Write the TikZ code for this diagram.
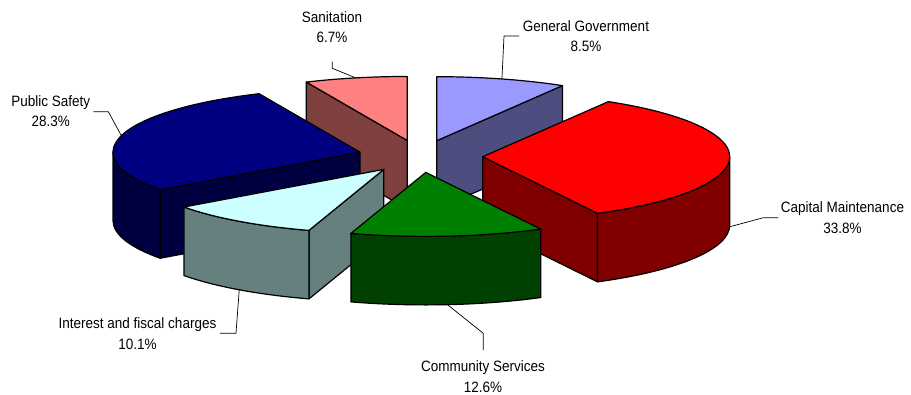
\documentclass[tikz,border=0pt]{standalone}
\usepackage{fontspec}
\setmainfont{Liberation Sans}[FakeStretch=0.9]
\definecolor{ggtop}{HTML}{9999FF}\definecolor{ggside}{HTML}{4D4D80}
\definecolor{santop}{HTML}{FF8080}\definecolor{sanside}{HTML}{804040}
\definecolor{pstop}{HTML}{000080}\definecolor{psside}{HTML}{000040}
\definecolor{cmtop}{HTML}{FF0000}\definecolor{cmside}{HTML}{800000}
\definecolor{iftop}{HTML}{CCFFFF}\definecolor{ifside}{HTML}{668080}
\definecolor{cstop}{HTML}{008000}\definecolor{csside}{HTML}{004000}
\newcommand\slicectr[2]{%
  \pgfmathsetmacro\sA{#1}%
  \pgfmathsetmacro\sB{#2}%
  \pgfmathsetmacro\sM{(#1+#2)/2}%
  \pgfmathsetmacro\cX{\ox+\ee*cos(\sM)}%
  \pgfmathsetmacro\cY{\oy+\eb*sin(\sM)}%
}
\newcommand\slicetop[1]{%
  \path[edge,fill=#1] (\cX,\cY) -- ++({\ra*cos(\sA)},{\rb*sin(\sA)})
    arc[start angle=\sA,end angle=\sB,x radius=\ra,y radius=\rb] -- cycle;}
\newcommand\sliceface[2]{%
  \path[edge,fill=#2] (\cX,\cY) -- ++({\ra*cos(#1)},{\rb*sin(#1)}) -- ++(0,-\hh)
    -- ++({-\ra*cos(#1)},{-\rb*sin(#1)}) -- cycle;}
\newcommand\slicerim[3]{%
  \path[edge,fill=#3] ({\cX+\ra*cos(#1)},{\cY+\rb*sin(#1)})
    arc[start angle=#1,end angle=#2,x radius=\ra,y radius=\rb] -- ++(0,-\hh)
    arc[start angle=#2,end angle=#1,x radius=\ra,y radius=\rb] -- cycle;}
\begin{document}
\begin{tikzpicture}[x=1pt,y=1pt,
  edge/.style={draw=black,line width=1.2pt,line join=round},
  lead/.style={draw=black,line width=0.7pt},
  lbl/.style={align=center,inner sep=0pt,font=\fontsize{15}{20.5}\selectfont,anchor=base}]
\useasboundingbox (0,0) rectangle (911,394);
\def\ox{420.3}\def\oy{237.7}\def\ra{247}\def\rb{64}\def\hh{68.5}\def\ee{62.4}\def\eb{16.17}
% General Government
\slicectr{59.4}{90}
\sliceface{59.4}{ggside}
\slicetop{ggtop}
\coordinate (ggE) at ({\cX+\ra*cos(\sM)},{\cY+\rb*sin(\sM)});
% Sanitation
\slicectr{90}{114.12}
\sliceface{114.12}{sanside}
\slicetop{santop}
\coordinate (sanE) at ({\cX+\ra*cos(\sM)},{\cY+\rb*sin(\sM)});
% Public Safety
\slicectr{114.12}{216}
\slicerim{180}{216}{psside}
\sliceface{216}{psside}
\slicetop{pstop}
\coordinate (psE) at ({\cX+\ra*cos(\sM)},{\cY+\rb*sin(\sM)});
% Capital Maintenance
\slicectr{-62.28}{59.4}
\sliceface{-62.28}{cmside}
\slicerim{-62.28}{0}{cmside}
\slicetop{cmtop}
\coordinate (cmE) at ({\cX+\ra*cos(\sM)},{\cY+\rb*sin(\sM)-\hh});
% Interest and fiscal charges
\slicectr{-144}{-107.64}
\sliceface{-107.64}{ifside}
\slicerim{-144}{-107.64}{ifside}
\slicetop{iftop}
\coordinate (ifE) at ({\cX+\ra*cos(\sM)},{\cY+\rb*sin(\sM)-\hh});
% Community Services
\slicectr{-107.64}{-62.28}
\slicerim{-107.64}{-62.28}{csside}
\slicetop{cstop}
\coordinate (csE) at ({\cX+\ra*cos(\sM)},{\cY+\rb*sin(\sM)-\hh});
% labels (base anchor = baseline of the last line)
\node[lbl] (san) at (332,351.3) {Sanitation\\6.7\%};
\node[lbl] (gg) at (586,342.3) {General Government\\8.5\%};
\node[lbl] (ps) at (50.8,267.3) {Public Safety\\28.3\%};
\node[lbl] (cm) at (842.5,160.7) {Capital Maintenance\\33.8\%};
\node[lbl] (if) at (137.5,44.7) {Interest and fiscal charges\\10.1\%};
\node[lbl] (cs) at (483,2) {Community Services\\12.6\%};
% leaders
\coordinate (sanA) at (332.3,332.3); \coordinate (sanB) at (332.3,325.7);
\coordinate (ggA) at (519,358); \coordinate (ggB) at (504,358);
\coordinate (psA) at (93.3,282.3); \coordinate (psB) at (108.3,282.3);
\coordinate (cmA) at (778.3,176.3); \coordinate (cmB) at (763.3,176.3);
\coordinate (ifA) at (220,60.7); \coordinate (ifB) at (236,60.7);
\coordinate (csA) at (483.3,44); \coordinate (csB) at (483.3,60.7);
\draw[lead] (sanA) -- (sanB) -- (sanE);
\draw[lead] (ggA) -- (ggB) -- (ggE);
\draw[lead] (psA) -- (psB) -- (psE);
\draw[lead] (cmA) -- (cmB) -- (cmE);
\draw[lead] (ifA) -- (ifB) -- (ifE);
\draw[lead] (csA) -- (csB) -- (csE);
\end{tikzpicture}
\end{document}
